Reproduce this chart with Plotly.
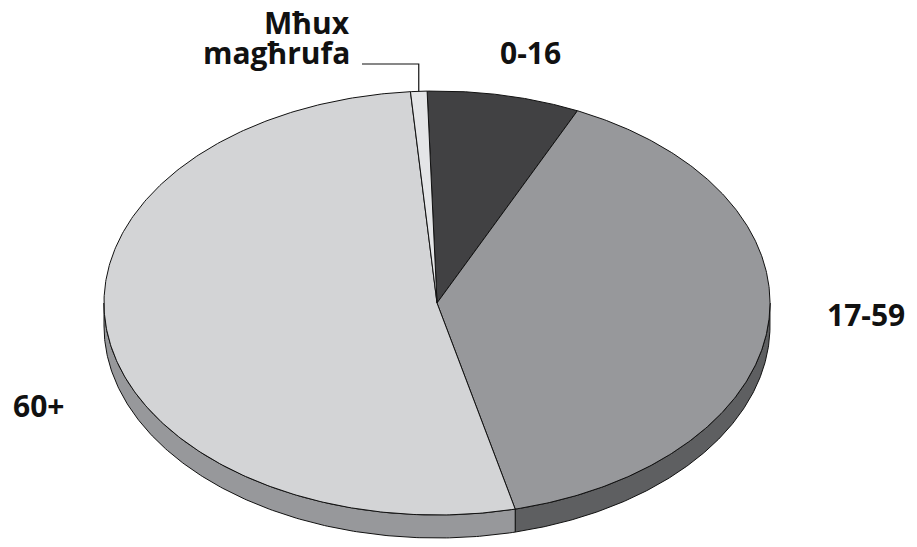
import numpy as np
import plotly.graph_objects as go

# ---- data ----
labels = ["0-16", "17-59", "60+", "Mħux magħrufa"]
values = [7.4, 39.3, 52.5, 0.8]

# ---- style ----
top_colors = ["#414143", "#97989b", "#d3d4d6", "#e4e5e7"]
side_colors = ["#2c2c2e", "#5e5f61", "#97989b", "#bcbdbf"]
start_deg = -1.7          # clockwise from 12 o'clock
CX, CY, RX, RY, DEPTH = 437, 303, 333, 212, 23
FONT = "Open Sans"

def ell(t, dy=0.0):
    return CX + RX * np.sin(t), CY - RY * np.cos(t) + dy

total = float(sum(values))
angles = [np.radians(start_deg)]
for v in values:
    angles.append(angles[-1] + 2 * np.pi * v / total)

fig = go.Figure()

# side walls (front half only: 90..270 deg clockwise from top)
lo, hi = np.pi / 2, 3 * np.pi / 2
for i in range(len(values)):
    t0, t1 = angles[i], angles[i + 1]
    for off in (0, 2 * np.pi, -2 * np.pi):
        a0, a1 = max(t0 + off, lo), min(t1 + off, hi)
        if a1 > a0:
            ts = np.linspace(a0, a1, 200)
            xt, yt = ell(ts)
            xb, yb = ell(ts[::-1], DEPTH)
            xs = np.concatenate([xt, xb, xt[:1]])
            ys = np.concatenate([yt, yb, yt[:1]])
            fig.add_trace(go.Scatter(x=xs, y=ys, mode="lines", fill="toself",
                                     fillcolor=side_colors[i],
                                     line=dict(color="#111", width=1),
                                     hoverinfo="skip", showlegend=False))

# top faces
for i in range(len(values)):
    ts = np.linspace(angles[i], angles[i + 1], 300)
    xa, ya = ell(ts)
    xs = np.concatenate([[CX], xa, [CX]])
    ys = np.concatenate([[CY], ya, [CY]])
    fig.add_trace(go.Scatter(x=xs, y=ys, mode="lines", fill="toself",
                             fillcolor=top_colors[i],
                             line=dict(color="#111", width=1),
                             hoverinfo="skip", showlegend=False,
                             name=labels[i]))

# leader line for the small slice
mid = (angles[3] + angles[4]) / 2
mx, my = ell(mid)
fig.add_trace(go.Scatter(x=[362, mx, mx], y=[64, 64, my], mode="lines",
                         line=dict(color="#111", width=1.2),
                         hoverinfo="skip", showlegend=False))

lab_font = dict(family=FONT, size=30, color="#111")
def ann(text, x, y, xanchor="center"):
    fig.add_annotation(x=x, y=y, text="<b>" + text + "</b>", showarrow=False,
                       xanchor=xanchor, yanchor="middle", font=lab_font)

ann(labels[0], 530, 52)
ann(labels[1], 866, 314)
ann(labels[2], 38, 405)
w = labels[3].split(" ")
ann(w[0], 352, 22, "right")
ann(w[1], 352, 52, "right")

fig.update_layout(
    width=917, height=547,
    margin=dict(l=0, r=0, t=0, b=0),
    paper_bgcolor="white", plot_bgcolor="white",
    xaxis=dict(range=[0, 917], visible=False, fixedrange=True),
    yaxis=dict(range=[547, 0], visible=False, fixedrange=True),
    showlegend=False,
)
fig.write_html("out.html", config={"displayModeBar": False},
               post_script="document.body.style.margin='0';document.body.style.overflow='hidden';")
